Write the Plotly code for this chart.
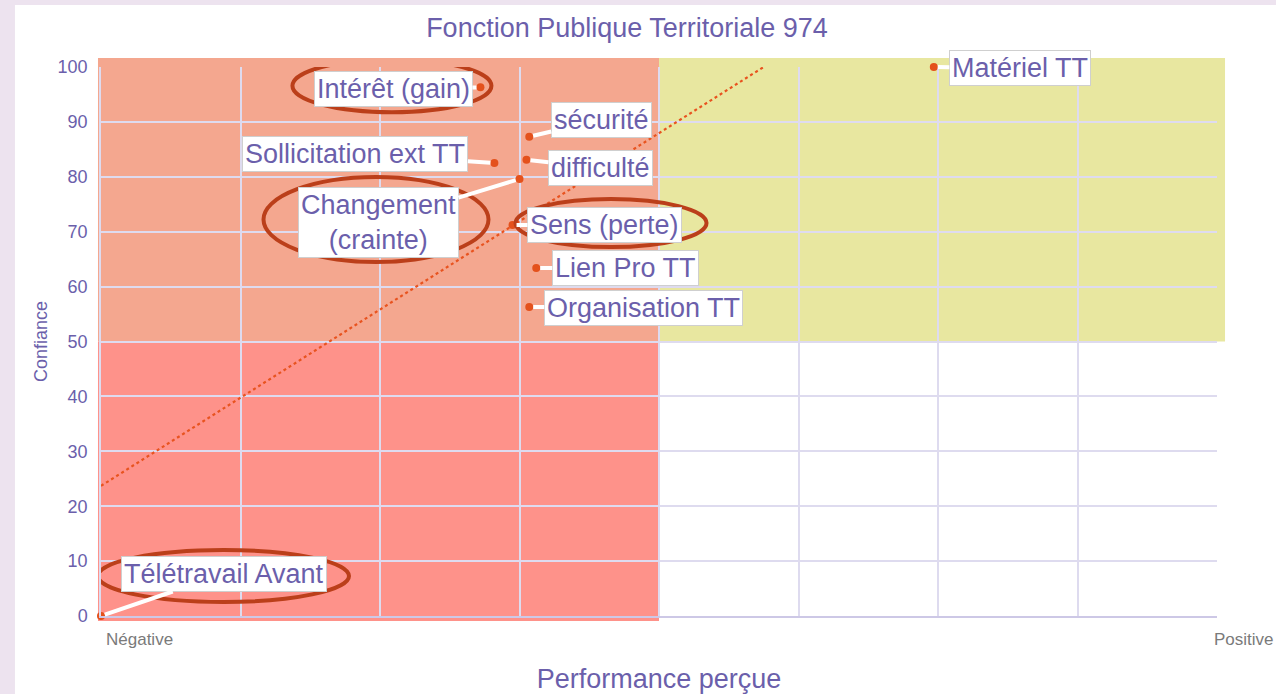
import plotly.graph_objects as go

# ---------------- data ----------------
labels = ["Télétravail Avant", "Intérêt (gain)", "sécurité", "Sollicitation ext TT",
          "difficulté", "Changement<br>(crainte)", "Sens (perte)", "Lien Pro TT",
          "Organisation TT", "Matériel TT"]
perf = [0.0, 2.72, 3.07, 2.82, 3.05, 3.0, 2.95, 3.12, 3.07, 5.97]
confiance = [0.0, 96.3, 87.3, 82.5, 83.1, 79.6, 71.2, 63.4, 56.3, 100.0]

trend_x = [0.0, 4.75]
trend_y = [23.7, 100.0]

y_ticks = [0, 10, 20, 30, 40, 50, 60, 70, 80, 90, 100]
x_ticks = [0, 1, 2, 3, 4, 5, 6, 7, 8]
x_end_labels = ["Négative", "Positive"]
x_end_values = [0, 8]

# ---------------- style ----------------
PURPLE = "#6b5fab"
FONT = "Liberation Sans, Arial, Helvetica, sans-serif"
DOT = "#e4511c"
RING = "#bb3f1a"
GRID = "#dedbef"

# label offsets (pixels, box centre relative to point)
label_offsets = {
    "Télétravail Avant": (123, -42),
    "Intérêt (gain)": (-87, 2),
    "sécurité": (72, -17),
    "Sollicitation ext TT": (-139, -9),
    "difficulté": (74, 8),
    "Changement<br>(crainte)": (-141, 43),
    "Sens (perte)": (92, 0),
    "Lien Pro TT": (89, 0),
    "Organisation TT": (114, 1),
    "Matériel TT": (86, 1),
}
# highlight ellipses (pixel extents relative to point: x0, x1, y0, y1 with y up)
ring_extents = {
    "Télétravail Avant": (-3, 248, 14, 66),
    "Intérêt (gain)": (-188, 11, -25, 28),
    "Changement<br>(crainte)": (-256, -31, -83, 2),
    "Sens (perte)": (3, 194, -22, 26),
}

fig = go.Figure()

fig.add_trace(go.Scatter(
    x=trend_x, y=trend_y, mode="lines",
    line=dict(color="#e8531f", width=2.2, dash="dot"),
    hoverinfo="skip", showlegend=False,
))
fig.add_trace(go.Scatter(
    x=perf, y=confiance, mode="markers",
    marker=dict(color=DOT, size=8),
    text=[l.replace("<br>", " ") for l in labels],
    hovertemplate="%{text}<extra></extra>",
    cliponaxis=False, showlegend=False,
))

shapes = [
    # white panel over lavender page
    dict(type="rect", xref="paper", yref="paper", x0=-0.0771, x1=1.1, y0=-0.2, y1=1.113,
         fillcolor="white", line_width=0, layer="below"),
    # quadrants
    dict(type="rect", xref="paper", yref="paper", x0=-0.0027, x1=0.5, y0=0.5, y1=1.0164,
         fillcolor="#f4a78f", line_width=0, layer="below"),
    dict(type="rect", xref="paper", yref="paper", x0=-0.0027, x1=0.5, y0=-0.0091, y1=0.5,
         fillcolor="#fe928a", line_width=0, layer="below"),
    dict(type="rect", xref="paper", yref="paper", x0=0.5, x1=1.0072, y0=0.5, y1=1.0164,
         fillcolor="#e8e7a0", line_width=0, layer="below"),
]

for lab, xv, yv in zip(labels, perf, confiance):
    if lab in ring_extents:
        x0, x1, y0, y1 = ring_extents[lab]
        shapes.append(dict(
            type="circle", xref="x", yref="y",
            xsizemode="pixel", ysizemode="pixel",
            xanchor=xv, yanchor=yv, x0=x0, x1=x1, y0=y0, y1=y1,
            line=dict(color=RING, width=4), layer="above",
        ))

annotations = []
for lab, xv, yv in zip(labels, perf, confiance):
    ax, ay = label_offsets[lab]
    annotations.append(dict(
        x=xv, y=yv, xref="x", yref="y", text=lab,
        showarrow=True, ax=ax, ay=ay, arrowhead=0, arrowwidth=4,
        arrowcolor="white", standoff=4,
        bgcolor="white", bordercolor="#cfcfcf", borderwidth=1, borderpad=2,
        font=dict(family=FONT, size=27, color=PURPLE),
    ))

# end labels of the x axis (left-aligned at their tick)
for txt, xv, shift in zip(x_end_labels, x_end_values, [3, -5]):
    annotations.append(dict(
        x=xv, y=-0.0437, xref="x", yref="paper", text=txt, showarrow=False,
        xanchor="left", yanchor="middle", xshift=shift,
        font=dict(family=FONT, size=17, color="#7a7a7a"),
    ))

fig.update_layout(
    width=1276, height=694,
    margin=dict(l=101, r=59, t=67, b=78),
    paper_bgcolor="#ede3ef",
    plot_bgcolor="rgba(0,0,0,0)",
    title=dict(text="Fonction Publique Territoriale 974", x=627 / 1276, xref="container",
               xanchor="center", y=1 - 28 / 694, yref="container", yanchor="middle",
               font=dict(family=FONT, size=27, color=PURPLE)),
    shapes=shapes,
    annotations=annotations,
    showlegend=False,
)
fig.update_xaxes(
    range=[0, 8], tickvals=x_ticks, showticklabels=False,
    showgrid=True, gridcolor=GRID, gridwidth=1.5, zeroline=False,
    showline=True, linecolor="#cdc8e6", linewidth=1.5,
    title=dict(text="Performance perçue", standoff=52,
               font=dict(family=FONT, size=27, color=PURPLE)),
    automargin=False, fixedrange=True,
)
fig.update_yaxes(
    range=[0, 100], tickvals=y_ticks, ticklabelstandoff=8,
    tickfont=dict(family=FONT, size=18, color=PURPLE),
    showgrid=True, gridcolor=GRID, gridwidth=1.5, zeroline=False,
    showline=True, linecolor="#dedbef", linewidth=1.5,
    title=dict(text="Confiance", standoff=5,
               font=dict(family=FONT, size=18, color=PURPLE)),
    automargin=False, fixedrange=True,
)

fig.write_html(
    "out.html",
    config={"displayModeBar": False},
    post_script="document.body.style.margin='0';document.body.style.overflow='hidden';",
)
